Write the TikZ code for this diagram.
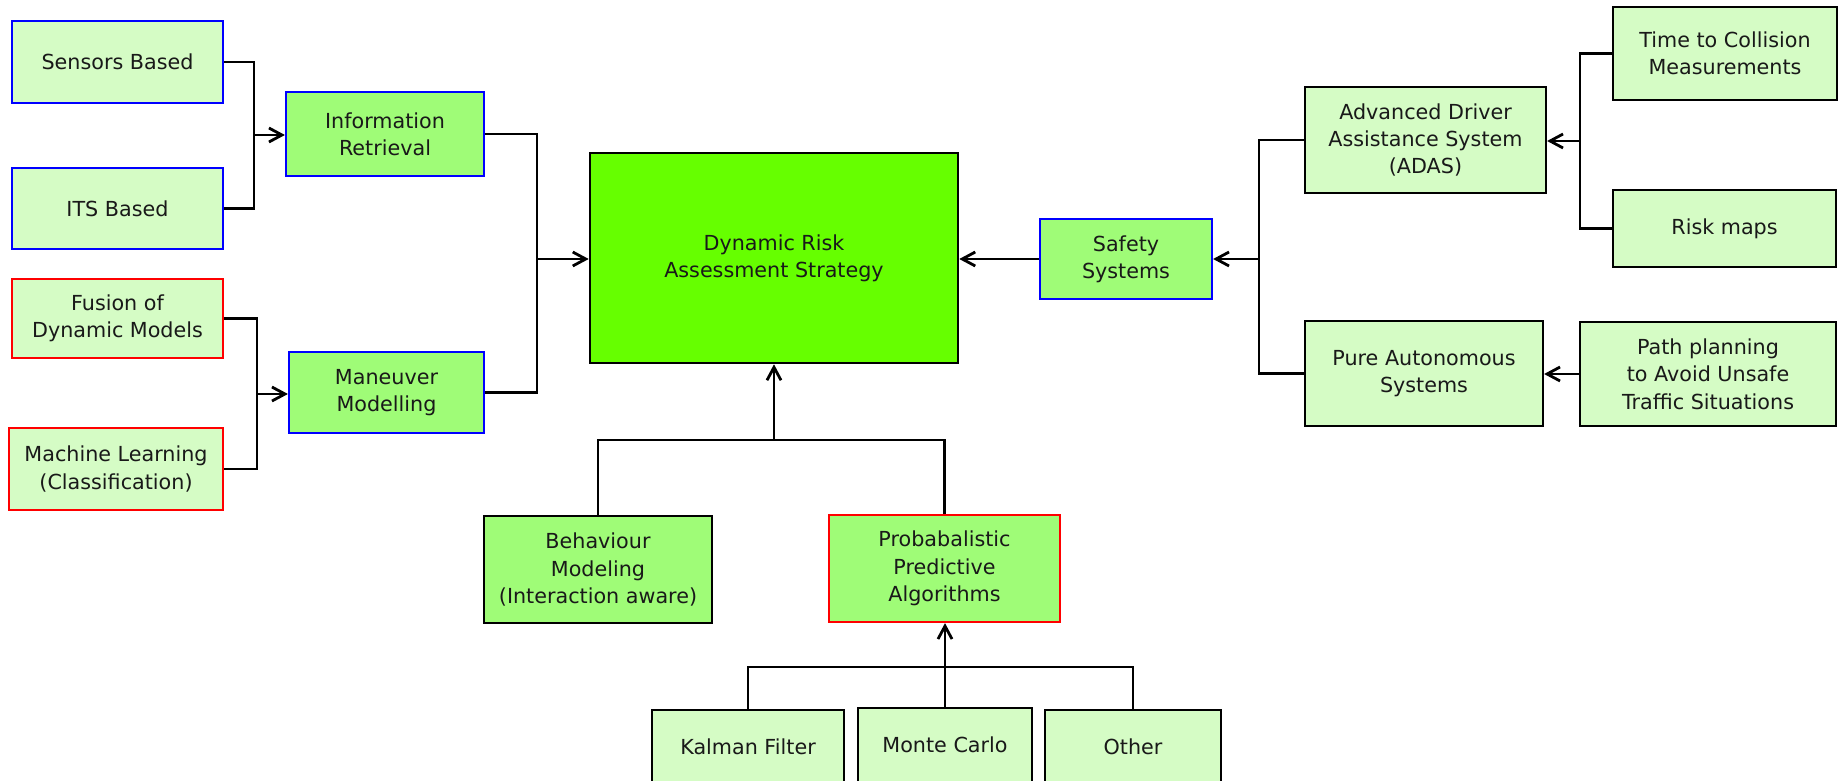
\documentclass[tikz,border=0pt]{standalone}
\usepackage{fontspec}
\setmainfont{DejaVu Sans}
\usetikzlibrary{arrows.meta}
\definecolor{lgreen}{HTML}{D5FCC5}
\definecolor{mgreen}{HTML}{9FFC77}
\definecolor{bgreen}{HTML}{66FF00}
\definecolor{bblue}{HTML}{0000FF}
\definecolor{rred}{HTML}{FF0000}
\begin{document}
\begin{tikzpicture}[x=0.5pt,y=-0.5pt,
 box/.style={draw=black, line width=1.1pt, inner sep=0pt, align=center, font=\fontsize{10.35}{13.65}\selectfont, text=black!90},
 light/.style={box, fill=lgreen},
 mid/.style={box, fill=mgreen},
 blueb/.style={draw=bblue},
 redb/.style={draw=rred},
 lowtext/.style={text height=7.55pt, text depth=5pt},
 conn/.style={line width=1.1pt, black},
 arr/.style={conn, -{Straight Barb[length=6.5pt,width=7pt,line width=1.4pt]}}
]
\useasboundingbox (0,0) rectangle (1843,781);
\fill[white] (0,0) rectangle (1843,781);
\node[light, blueb, minimum width=105.5pt, minimum height=41pt] (sens) at (117.5,62) {Sensors Based};
\node[light, blueb, minimum width=105.5pt, minimum height=40.5pt] (its) at (117.5,208.5) {ITS Based};
\node[light, redb, minimum width=105.5pt, minimum height=39.5pt] (fus) at (117.5,318.5) {Fusion of\\Dynamic Models};
\node[light, redb, minimum width=107pt, minimum height=41pt] (ml) at (116,469) {Machine Learning\\(Classification)};
\node[mid, blueb, minimum width=99pt, minimum height=42pt] (info) at (385,134) {Information\\Retrieval};
\node[mid, blueb, minimum width=97.5pt, minimum height=40.5pt] (man) at (386.5,392.5) {Maneuver\\Modelling};
\node[box, fill=bgreen, line width=1.3pt, minimum width=184pt, minimum height=105pt] (dra) at (774,258) {Dynamic Risk\\Assessment Strategy};
\node[mid, blueb, minimum width=86pt, minimum height=40pt] (safe) at (1126,259) {Safety\\Systems};
\node[light, minimum width=120.5pt, minimum height=53pt] (adas) at (1425.5,140) {Advanced Driver\\Assistance System\\(ADAS)};
\node[light, minimum width=119pt, minimum height=52.5pt] (pure) at (1424,373.5) {Pure Autonomous\\Systems};
\node[light, minimum width=112pt, minimum height=46.5pt] (ttc) at (1725,53.5) {Time to Collision\\Measurements};
\node[light, minimum width=111.5pt, minimum height=38.5pt] (risk) at (1724.5,228.5) {Risk maps};
\node[light, minimum width=128pt, minimum height=52pt] (path) at (1708,374) {Path planning\\to Avoid Unsafe\\Traffic Situations};
\node[mid, minimum width=114pt, minimum height=53.5pt] (beh) at (598,569.5) {Behaviour\\Modeling\\(Interaction aware)};
\node[mid, redb, minimum width=115.5pt, minimum height=53.5pt] (prob) at (944.5,568.5) {Probabalistic\\Predictive\\Algorithms};
\node[light, lowtext, minimum width=96pt, minimum height=42pt] (kal) at (748,752) {Kalman Filter};
\node[light, lowtext, minimum width=87pt, minimum height=42pt] (mc) at (945,750) {Monte Carlo};
\node[light, lowtext, minimum width=88pt, minimum height=42pt] (oth) at (1133,752) {Other};
\coordinate (j1) at (254,135);
\draw[conn] (sens.east) -| (j1) |- (its.east);
\draw[arr] (j1) -- (j1 -| info.west);
\coordinate (j2) at (257,394);
\draw[conn] (fus.east) -| (j2) |- (ml.east);
\draw[arr] (j2) -- (j2 -| man.west);
\coordinate (j3) at (537,259);
\draw[conn] (info.east) -| (j3) |- (man.east);
\draw[arr] (j3) -- (j3 -| dra.west);
\draw[arr] (safe.west) -- (safe.west -| dra.east);
\coordinate (j4) at (1259,259);
\draw[conn] (adas.west) -| (j4) |- (pure.west);
\draw[arr] (j4) -- (j4 -| safe.east);
\coordinate (j5) at (1580,141);
\draw[conn] (ttc.west) -| (j5) |- (risk.west);
\draw[arr] (j5) -- (j5 -| adas.east);
\draw[arr] (path.west) -- (path.west -| pure.east);
\coordinate (j6) at (774,440);
\draw[conn] (beh.north) |- (j6) -| (prob.north);
\draw[arr] (j6) -- (dra.south);
\coordinate (j7) at (945,667);
\draw[conn] (kal.north) |- (j7) -| (oth.north);
\draw[arr] (mc.north) -- (mc.north |- prob.south);
\end{tikzpicture}
\end{document}
